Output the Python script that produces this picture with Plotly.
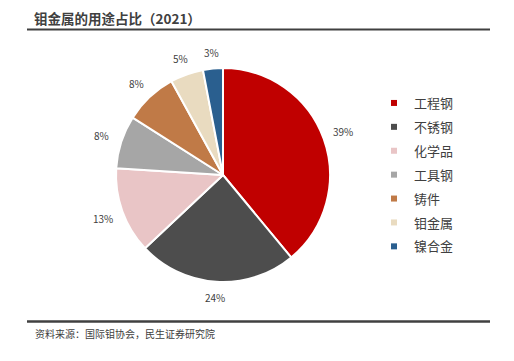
import math
import plotly.graph_objects as go

categories = ["工程钢", "不锈钢", "化学品", "工具钢", "铸件", "钼金属", "镍合金"]
values = [39, 24, 13, 8, 8, 5, 3]
colors = ["#C00000", "#4D4D4D", "#E9C5C6", "#A6A6A6", "#C07A47", "#E9DBC0", "#2A5F8F"]

W, H = 514, 361
cx, cy, r = 223, 175, 107
FONT = "Noto Sans CJK SC, Microsoft YaHei, sans-serif"

fig = go.Figure()
fig.add_trace(go.Pie(
    labels=categories,
    values=values,
    sort=False,
    direction="clockwise",
    rotation=0,
    marker=dict(colors=colors, line=dict(color="white", width=2)),
    textinfo="none",
    domain=dict(x=[(cx - r) / W, (cx + r) / W], y=[1 - (cy + r) / H, 1 - (cy - r) / H]),
    hoverinfo="label+percent",
    showlegend=False,
))

# legend entries (same categories/colours as the slices)
for i, (c, col) in enumerate(zip(categories, colors)):
    fig.add_trace(go.Scatter(
        x=[None], y=[None], mode="markers", name=c,
        marker=dict(symbol="square", size=6, color=col),
        legendgroup=f"g{i}", showlegend=True, hoverinfo="skip",
    ))

# outside percentage labels, positioned from the slice mid-angles
annotations = []
total = sum(values)
cum = 0
for v in values:
    mid = (cum + v / 2) / total * 2 * math.pi
    cum += v
    s, c_ = math.sin(mid), math.cos(mid)
    d = r + 15 + 6 * abs(s)
    px, py = cx + d * s, cy - d * c_
    annotations.append(dict(
        text=f"{v}%", x=px / W, y=1 - py / H, xref="paper", yref="paper",
        xanchor="center", yanchor="middle", showarrow=False,
        font=dict(size=10, color="#404040", family=FONT)))

annotations += [
    dict(text="<b>钼金属的用途占比（2021）</b>", x=32 / W, y=1 - 18 / H, xref="paper", yref="paper",
         xanchor="left", yanchor="middle", showarrow=False,
         font=dict(size=13.5, color="#404040", family=FONT)),
    dict(text="资料来源：国际钼协会，民生证券研究院", x=33 / W, y=1 - 333 / H, xref="paper", yref="paper",
         xanchor="left", yanchor="middle", showarrow=False,
         font=dict(size=10, color="#404040", family=FONT)),
]

fig.update_layout(
    width=W, height=H,
    margin=dict(l=0, r=0, t=0, b=0),
    paper_bgcolor="white",
    plot_bgcolor="white",
    font=dict(family=FONT, color="#404040"),
    showlegend=True,
    xaxis=dict(visible=False),
    yaxis=dict(visible=False),
    legend=dict(x=374 / W, y=1 - 88 / H, xanchor="left", yanchor="top",
                font=dict(size=13, color="#404040", family=FONT),
                itemwidth=30, tracegroupgap=4, bgcolor="rgba(0,0,0,0)",
                itemclick=False, itemdoubleclick=False),
    annotations=annotations,
    shapes=[
        dict(type="line", xref="paper", yref="paper", x0=27 / W, x1=490 / W, y0=1 - 29.5 / H, y1=1 - 29.5 / H,
             line=dict(color="#404040", width=2)),
        dict(type="line", xref="paper", yref="paper", x0=27 / W, x1=490 / W, y0=1 - 321.5 / H, y1=1 - 321.5 / H,
             line=dict(color="#404040", width=2.5)),
    ],
)

fig.write_html("out.html", config={"displayModeBar": False},
               post_script="document.body.style.margin='0';document.body.style.overflow='hidden';")
